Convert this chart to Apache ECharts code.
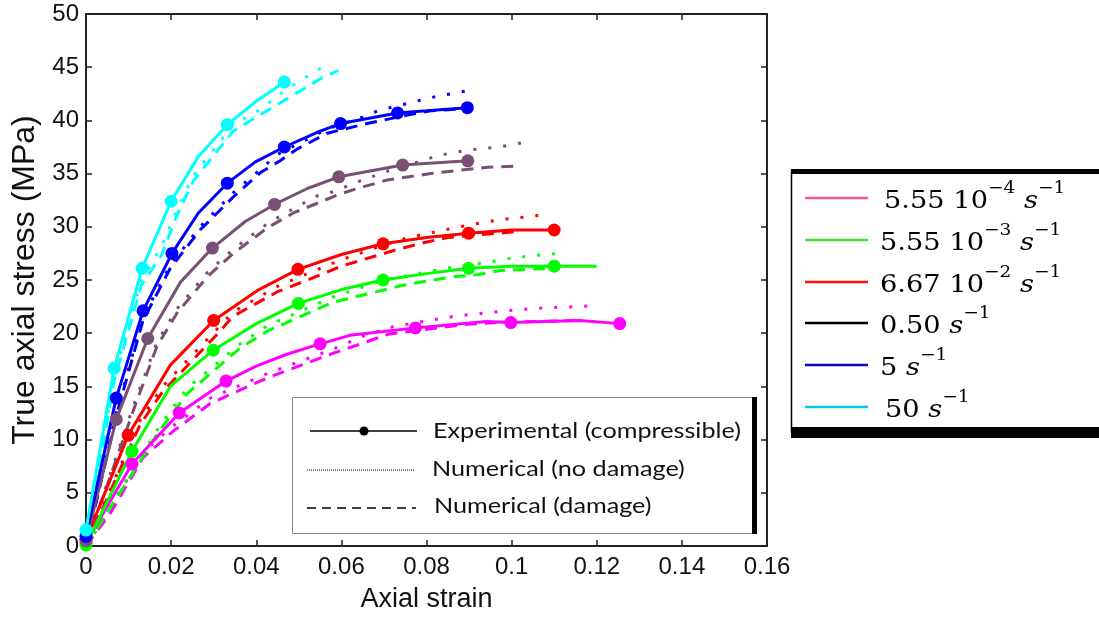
<!DOCTYPE html>
<html>
<head>
<meta charset="utf-8">
<script src="https://cdn.jsdelivr.net/npm/echarts@6/dist/echarts.min.js"></script>
<style>html,body{margin:0;padding:0;background:#fff}#c{width:1099px;height:618px}</style>
</head>
<body>
<div id="c"></div>
<script>
// ---------- DATA ----------
const xTicks = [0, 0.02, 0.04, 0.06, 0.08, 0.1, 0.12, 0.14, 0.16];
const yTicks = [0, 5, 10, 15, 20, 25, 30, 35, 40, 45, 50];

const rateLabels = ['5.55 10^-4', '5.55 10^-3', '6.67 10^-2', '0.50', '5', '50'];
const styleLabels = ['Experimental (compressible)', 'Numerical (no damage)', 'Numerical (damage)'];

// 5.55e-4 (magenta)
const expLine1 = [[0,0.3],[0.0108,7.7],[0.0219,12.5],[0.0329,15.5],[0.040,16.9],[0.047,18.0],[0.055,19.0],[0.062,19.8],[0.0774,20.5],[0.094,21.1],[0.0998,21.0],[0.116,21.2],[0.1254,20.9]];
const expMark1 = [[0,0.3],[0.0108,7.7],[0.0219,12.5],[0.0329,15.5],[0.055,19.0],[0.0774,20.5],[0.0998,21.0],[0.1254,20.9]];
const noDmg1 = [[0,0],[0.0056,3.4],[0.0134,8.8],[0.0205,11.3],[0.0292,13.9],[0.0426,16.2],[0.058,18.5],[0.065,19.7],[0.072,20.6],[0.0793,21.1],[0.0866,21.6],[0.094,21.9],[0.1012,22.2],[0.1087,22.4],[0.116,22.5],[0.1195,22.6]];
const dmg1 = [[0,0],[0.0056,3.0],[0.0134,8.3],[0.0205,10.8],[0.0292,13.4],[0.0426,15.8],[0.058,18.1],[0.071,19.9],[0.0805,20.4],[0.0885,20.8],[0.0967,21.0],[0.105,21.1],[0.115,21.2]];

// 5.55e-3 (green)
const expLine2 = [[0,0.1],[0.0108,8.9],[0.0198,15.0],[0.0299,18.4],[0.040,20.9],[0.0499,22.8],[0.060,24.1],[0.0698,25.0],[0.080,25.6],[0.0899,26.1],[0.100,26.3],[0.110,26.3],[0.120,26.3]];
const expMark2 = [[0,0.1],[0.0108,8.9],[0.0299,18.4],[0.0499,22.8],[0.0698,25.0],[0.0899,26.1],[0.110,26.3]];
const noDmg2 = [[0,0],[0.0167,10.9],[0.0237,14.8],[0.0362,19.0],[0.0426,20.7],[0.058,23.4],[0.070,25.0],[0.078,25.6],[0.086,26.2],[0.0934,26.6],[0.1007,27.1],[0.108,27.4],[0.112,27.5]];
const dmg2 = [[0,0],[0.0167,10.5],[0.0237,14.3],[0.0362,18.6],[0.0426,20.2],[0.058,22.9],[0.0704,24.1],[0.0744,24.5],[0.080,24.9],[0.0864,25.3],[0.092,25.5],[0.0974,25.9],[0.1033,26.0],[0.110,26.1]];

// 6.67e-2 (red)
const expLine3 = [[0,0.6],[0.0099,10.4],[0.0198,17.0],[0.030,21.2],[0.0402,24.0],[0.0498,26.0],[0.060,27.4],[0.0698,28.4],[0.080,29.0],[0.0899,29.4],[0.100,29.7],[0.110,29.7]];
const expMark3 = [[0,0.6],[0.0099,10.4],[0.030,21.2],[0.0498,26.0],[0.0698,28.4],[0.0899,29.4],[0.110,29.7]];
const noDmg3 = [[0,0],[0.0127,11.8],[0.018,15.0],[0.0237,17.4],[0.0308,20.4],[0.0346,22.0],[0.045,24.4],[0.052,25.6],[0.060,26.9],[0.0693,28.2],[0.0758,29.0],[0.083,29.6],[0.0903,30.2],[0.0977,30.7],[0.105,31.0],[0.1087,31.2]];
const dmg3 = [[0,0],[0.0127,11.4],[0.018,14.5],[0.0237,16.9],[0.0308,19.9],[0.0346,21.6],[0.045,23.9],[0.052,25.0],[0.060,26.3],[0.0734,27.9],[0.0793,28.5],[0.085,29.0],[0.097,29.4],[0.102,29.6]];

// 0.50 (purple)
const expLine4 = [[0,0.5],[0.0071,11.9],[0.0145,19.5],[0.0222,24.8],[0.0297,28.0],[0.0374,30.5],[0.0443,32.1],[0.052,33.6],[0.0594,34.7],[0.0744,35.8],[0.0897,36.2]];
const expMark4 = [[0,0.5],[0.0071,11.9],[0.0145,19.5],[0.0297,28.0],[0.0443,32.1],[0.0594,34.7],[0.0744,35.8],[0.0897,36.2]];
const noDmg4 = [[0,0],[0.011,13.0],[0.0167,19.2],[0.0214,22.3],[0.0285,25.7],[0.0346,27.9],[0.0426,30.3],[0.0487,31.7],[0.0543,32.9],[0.058,33.3],[0.065,34.4],[0.072,35.4],[0.079,36.2],[0.0826,36.7],[0.0896,37.2],[0.097,37.5],[0.104,38.0]];
const dmg4 = [[0,0],[0.011,12.6],[0.0167,18.8],[0.0214,21.9],[0.0285,25.3],[0.0346,27.5],[0.0426,29.9],[0.0487,31.3],[0.0598,33.1],[0.0638,33.6],[0.0708,34.4],[0.081,35.0],[0.0873,35.3],[0.0944,35.6],[0.1014,35.7]];

// 5 (blue)
const expLine5 = [[0,0.9],[0.0071,13.9],[0.0134,22.1],[0.0202,27.5],[0.0264,31.3],[0.0332,34.1],[0.0398,36.1],[0.0466,37.5],[0.055,39.0],[0.0598,39.7],[0.0732,40.7],[0.080,40.9],[0.0896,41.2]];
const expMark5 = [[0,0.9],[0.0071,13.9],[0.0134,22.1],[0.0202,27.5],[0.0332,34.1],[0.0466,37.5],[0.0598,39.7],[0.0732,40.7],[0.0896,41.2]];
const noDmg5 = [[0,0],[0.0071,12.5],[0.0134,21.5],[0.0198,26.4],[0.0268,30.0],[0.0346,33.2],[0.041,35.4],[0.045,36.8],[0.0567,39.2],[0.065,40.3],[0.0685,40.9],[0.0755,41.6],[0.0828,42.3],[0.0899,42.8]];
const dmg5 = [[0,0],[0.0071,12.2],[0.0134,21.2],[0.0198,26.1],[0.0268,29.7],[0.0346,32.8],[0.041,35.1],[0.0456,36.2],[0.0496,37.3],[0.0567,38.8],[0.066,39.7],[0.0755,40.5],[0.081,40.9],[0.0885,41.1]];

// 50 (cyan)
const expLine6 = [[0,1.5],[0.0066,16.7],[0.0132,26.1],[0.020,32.4],[0.0264,36.6],[0.0332,39.6],[0.040,41.8],[0.0466,43.6]];
const expMark6 = [[0,1.5],[0.0066,16.7],[0.0132,26.1],[0.020,32.4],[0.0332,39.6],[0.0466,43.6]];
const noDmg6 = [[0,0],[0.0066,16.0],[0.013,25.0],[0.0178,28.2],[0.0214,31.6],[0.0252,34.8],[0.0346,39.6],[0.0417,41.2],[0.0446,42.2],[0.0475,43.0],[0.0506,43.8],[0.0537,44.6],[0.057,45.3]];
const dmg6 = [[0,0],[0.0066,15.5],[0.013,24.5],[0.0178,27.4],[0.0214,31.1],[0.0252,34.3],[0.0346,39.0],[0.040,40.3],[0.045,41.5],[0.050,42.7],[0.055,43.9],[0.0593,44.7]];

// ---------- STYLE ----------
const plotColors = ['#ff00ff', '#00ff00', '#ff0000', '#7a4f74', '#0000ff', '#00ffff'];
const legendColors = ['#ff4fa0', '#44dd44', '#ff1010', '#000000', '#0a0ab4', '#00c8ee'];

const groups = [
  [expLine1, expMark1, noDmg1, dmg1],
  [expLine2, expMark2, noDmg2, dmg2],
  [expLine3, expMark3, noDmg3, dmg3],
  [expLine4, expMark4, noDmg4, dmg4],
  [expLine5, expMark5, noDmg5, dmg5],
  [expLine6, expMark6, noDmg6, dmg6]
];

const series = [];
groups.forEach((g, i) => {
  const c = plotColors[i];
  series.push({type:'line', data:g[2], showSymbol:false, z:2, lineStyle:{color:c, width:3, type:[3,12], cap:'butt'}});
  series.push({type:'line', data:g[3], showSymbol:false, z:2, lineStyle:{color:c, width:3, type:[12,8], cap:'butt'}});
});
groups.forEach((g, i) => {
  const c = plotColors[i];
  series.push({type:'line', data:g[0], showSymbol:false, z:3, lineStyle:{color:c, width:3}});
  series.push({type:'scatter', data:g[1], symbol:'circle', symbolSize:13, z:4, itemStyle:{color:c, opacity:1}});
});

// ---------- LEGEND GRAPHICS ----------
const graphics = [];
// inner style legend
graphics.push({type:'rect', shape:{x:292.5, y:397.5, width:462, height:136}, style:{fill:'#fff', stroke:'#8c8c8c', lineWidth:1}, z:100});
graphics.push({type:'rect', shape:{x:752, y:397, width:5, height:137}, style:{fill:'#000'}, z:101});
graphics.push({type:'line', shape:{x1:310, y1:431, x2:417, y2:431}, style:{stroke:'#000', lineWidth:1.6}, z:101});
graphics.push({type:'circle', shape:{cx:364, cy:431, r:4.5}, style:{fill:'#000'}, z:102});
graphics.push({type:'line', shape:{x1:307, y1:470, x2:414, y2:470}, style:{stroke:'#000', lineWidth:1, lineDash:[1,1]}, z:101});
graphics.push({type:'line', shape:{x1:307, y1:508, x2:416, y2:508}, style:{stroke:'#000', lineWidth:1.5, lineDash:[9,6]}, z:101});
const styleTextY = [431, 469, 506];
const styleTextX = [433, 432, 434];
styleLabels.forEach((t, i) => {
  graphics.push({type:'text', x:styleTextX[i], y:styleTextY[i], z:102, scaleX:1.2, scaleY:1,
    style:{text:t, fill:'#111', font:'21px Lato', verticalAlign:'middle', textAlign:'left'}});
});

// right rate legend
graphics.push({type:'rect', shape:{x:791.5, y:172, width:320, height:260}, style:{fill:'#fff', stroke:'#000', lineWidth:1.5}, z:100});
graphics.push({type:'rect', shape:{x:791, y:169, width:308, height:5}, style:{fill:'#000'}, z:101});
graphics.push({type:'rect', shape:{x:791, y:427, width:308, height:11}, style:{fill:'#000'}, z:101});
const rateY = [198, 240, 282, 323, 365, 407];
const rateX = [884, 880, 880, 880, 880, 885];
rateLabels.forEach((lab, i) => {
  graphics.push({type:'line', shape:{x1:805, y1:rateY[i], x2:868, y2:rateY[i]}, style:{stroke:legendColors[i], lineWidth:2.5}, z:101});
  const parts = lab.split('^');
  let txt = '{n|' + parts[0] + '}';
  if (parts.length > 1) txt += '{p|' + parts[1].replace('-', '\u2212') + '}';
  txt += '{n| }{s|s}{p|\u22121}';
  graphics.push({type:'text', x:rateX[i], y:rateY[i] - 18, z:102, scaleX:1.09, scaleY:1,
    style:{text:txt, textAlign:'left', verticalAlign:'top',
      rich:{
        n:{fontFamily:'DejaVu Serif', fontSize:25, fill:'#000', lineHeight:34, verticalAlign:'bottom'},
        s:{fontFamily:'DejaVu Serif', fontStyle:'italic', fontSize:25, fill:'#000', lineHeight:34, verticalAlign:'bottom'},
        p:{fontFamily:'DejaVu Serif', fontSize:17, fill:'#000', lineHeight:34, verticalAlign:'top'}
      }}});
});

const axisFont = {fontFamily:'Liberation Sans', fontSize:24, color:'#111'};

const option = {
  animation:false,
  backgroundColor:'#fff',
  grid:{left:86, right:332, top:14, bottom:67},
  xAxis:[
    {type:'value', min:xTicks[0], max:xTicks[xTicks.length-1], interval:0.02, position:'bottom',
     name:'Axial strain', nameLocation:'middle', nameGap:40,
     nameTextStyle:{fontFamily:'Liberation Sans', fontSize:27, color:'#111'},
     axisLine:{show:true, onZero:false, lineStyle:{color:'#222', width:2}},
     axisTick:{show:true, inside:true, length:6, lineStyle:{color:'#222', width:1.5}},
     axisLabel:{...axisFont, margin:9, formatter:v => String(+v.toFixed(2))},
     splitLine:{show:false}},
    {type:'value', min:xTicks[0], max:xTicks[xTicks.length-1], interval:0.02, position:'top',
     axisLine:{show:true, onZero:false, lineStyle:{color:'#222', width:2}},
     axisTick:{show:true, inside:true, length:6, lineStyle:{color:'#222', width:1.5}},
     axisLabel:{show:false}, splitLine:{show:false}}
  ],
  yAxis:[
    {type:'value', min:yTicks[0], max:yTicks[yTicks.length-1], interval:5, position:'left',
     name:'True axial stress (MPa)', nameLocation:'middle', nameGap:44,
     nameTextStyle:{fontFamily:'Liberation Sans', fontSize:32, color:'#111'},
     axisLine:{show:true, onZero:false, lineStyle:{color:'#222', width:2}},
     axisTick:{show:true, inside:true, length:6, lineStyle:{color:'#222', width:1.5}},
     axisLabel:{...axisFont, margin:7},
     splitLine:{show:false}},
    {type:'value', min:yTicks[0], max:yTicks[yTicks.length-1], interval:5, position:'right',
     axisLine:{show:true, onZero:false, lineStyle:{color:'#222', width:2}},
     axisTick:{show:true, inside:true, length:6, lineStyle:{color:'#222', width:1.5}},
     axisLabel:{show:false}, splitLine:{show:false}}
  ],
  series:series,
  graphic:graphics
};

const chart = echarts.init(document.getElementById('c'), null, {renderer:'canvas'});
chart.setOption(option);
</script>
</body>
</html>
